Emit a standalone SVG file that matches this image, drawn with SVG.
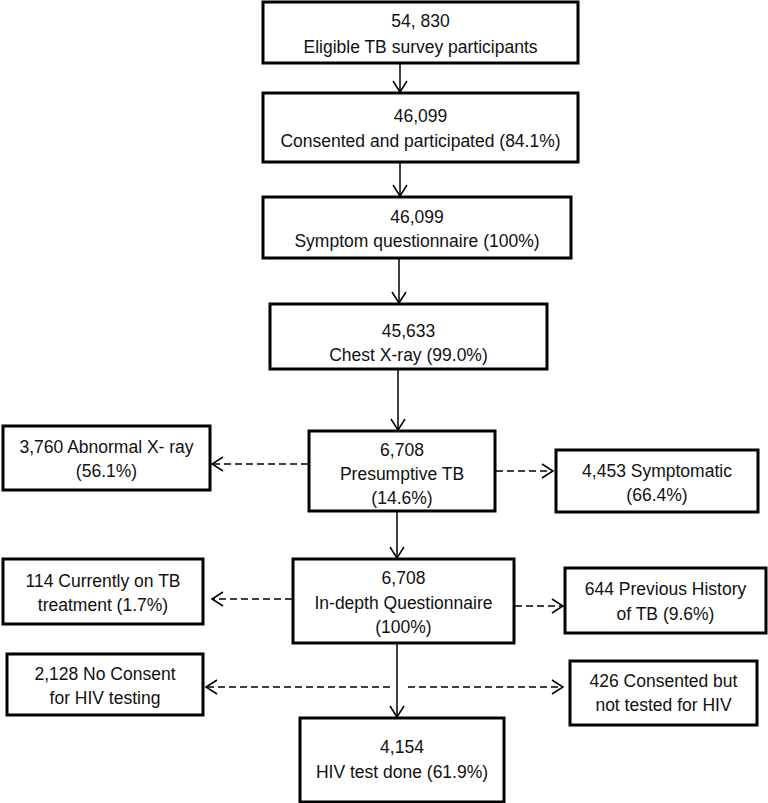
<svg xmlns="http://www.w3.org/2000/svg" width="768" height="803" viewBox="0 0 768 803">
<style>
.box{fill:#fff;stroke:#000;stroke-width:3}
.t{font-family:"Liberation Sans",Arial,sans-serif;font-size:17.5px;fill:#111;text-anchor:middle}
.ar{fill:none;stroke:#000;stroke-width:1.5}
.da{fill:none;stroke:#000;stroke-width:1.5;stroke-dasharray:7 4}
</style>
<defs>
<marker id="ah" markerUnits="userSpaceOnUse" markerWidth="14" markerHeight="16" refX="12" refY="8" orient="auto">
<path d="M1,1 L12,8 L1,15" fill="none" stroke="#000" stroke-width="1.5"/>
</marker>
</defs>
<rect width="768" height="803" fill="#fff"/>
<g id="connectors">
<line class="ar" x1="400" y1="63" x2="400" y2="92" marker-end="url(#ah)"/>
<line class="ar" x1="400" y1="163" x2="400" y2="196" marker-end="url(#ah)"/>
<line class="ar" x1="399" y1="258" x2="399" y2="303" marker-end="url(#ah)"/>
<line class="ar" x1="398" y1="369" x2="398" y2="430" marker-end="url(#ah)"/>
<line class="ar" x1="397" y1="512" x2="397" y2="558" marker-end="url(#ah)"/>
<line class="ar" x1="397" y1="643" x2="397" y2="717" marker-end="url(#ah)"/>
<line class="da" x1="308" y1="464" x2="212" y2="464" marker-end="url(#ah)"/>
<line class="da" x1="496" y1="471" x2="553" y2="471" marker-end="url(#ah)"/>
<line class="da" x1="292" y1="599" x2="212" y2="599" marker-end="url(#ah)"/>
<line class="da" x1="515" y1="606" x2="563" y2="606" marker-end="url(#ah)"/>
<line class="da" x1="390" y1="687" x2="206" y2="687" marker-end="url(#ah)"/>
<line class="da" x1="408" y1="687" x2="563" y2="687" marker-end="url(#ah)"/>
</g>
<g id="n1"><rect class="box" x="263" y="2" width="315" height="61"/><text class="t" x="420.5" y="27">54, 830</text><text class="t" x="420.5" y="53">Eligible TB survey participants</text></g>
<g id="n2"><rect class="box" x="263" y="93" width="315" height="69"/><text class="t" x="420.5" y="122">46,099</text><text class="t" x="420.5" y="147">Consented and participated (84.1%)</text></g>
<g id="n3"><rect class="box" x="263" y="197" width="308" height="61"/><text class="t" x="417" y="223">46,099</text><text class="t" x="417" y="247">Symptom questionnaire (100%)</text></g>
<g id="n4"><rect class="box" x="270" y="304" width="277" height="65"/><text class="t" x="408.5" y="337">45,633</text><text class="t" x="408.5" y="361">Chest X-ray (99.0%)</text></g>
<g id="n5"><rect class="box" x="309" y="431" width="186" height="80"/><text class="t" x="402" y="456">6,708</text><text class="t" x="402" y="480">Presumptive TB</text><text class="t" x="402" y="504">(14.6%)</text></g>
<g id="n6"><rect class="box" x="3" y="426" width="207" height="64"/><text class="t" x="106.5" y="453">3,760 Abnormal X- ray</text><text class="t" x="106.5" y="477">(56.1%)</text></g>
<g id="n7"><rect class="box" x="556" y="450" width="202" height="62"/><text class="t" x="657" y="477">4,453 Symptomatic</text><text class="t" x="657" y="501">(66.4%)</text></g>
<g id="n8"><rect class="box" x="293" y="559" width="221" height="84"/><text class="t" x="403.5" y="584">6,708</text><text class="t" x="403.5" y="609">In-depth Questionnaire</text><text class="t" x="403.5" y="633">(100%)</text></g>
<g id="n9"><rect class="box" x="3" y="559" width="200" height="65"/><text class="t" x="103" y="587">114 Currently on TB</text><text class="t" x="103" y="611">treatment (1.7%)</text></g>
<g id="n10"><rect class="box" x="565" y="568" width="201" height="65"/><text class="t" x="665.5" y="595">644 Previous History</text><text class="t" x="665.5" y="620">of TB (9.6%)</text></g>
<g id="n11"><rect class="box" x="7" y="654" width="196" height="61"/><text class="t" x="105" y="680">2,128 No Consent</text><text class="t" x="105" y="704">for HIV testing</text></g>
<g id="n12"><rect class="box" x="570" y="661" width="187" height="64"/><text class="t" x="663.5" y="687">426 Consented but</text><text class="t" x="663.5" y="711">not tested for HIV</text></g>
<g id="n13"><rect class="box" x="300" y="718" width="204" height="84"/><text class="t" x="402" y="753">4,154</text><text class="t" x="402" y="778">HIV test done (61.9%)</text></g>
</svg>
